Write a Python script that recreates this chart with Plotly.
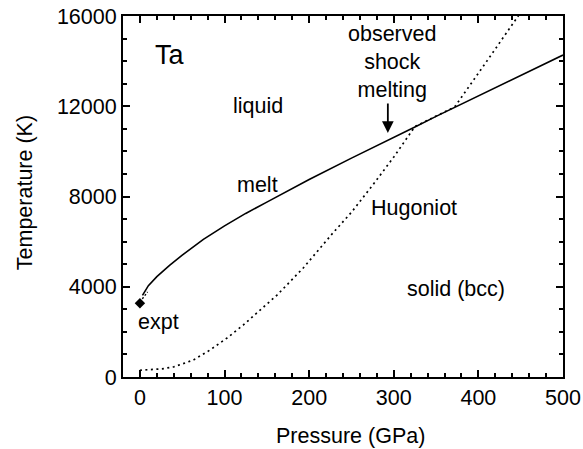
import plotly.graph_objects as go

# Melting curve of Ta (pressure in GPa, temperature in K)
melt_P = [3, 10, 20, 35, 50, 75, 100, 125, 150, 200, 250, 300, 325, 350, 400, 450, 500]
melt_T = [3620, 4050, 4450, 4950, 5400, 6100, 6700, 7250, 7750, 8750, 9700, 10600, 11080, 11550, 12450, 13350, 14270]

# Short extrapolation from the experimental point to the melt curve
link_P = [0, 9]
link_T = [3320, 3770]

# Shock Hugoniot
hug_P = [0, 15, 26, 40, 63, 83, 103, 122, 142, 162, 177, 193, 228, 250, 275, 300, 325, 350, 372, 410, 447, 460]
hug_T = [300, 320, 360, 450, 750, 1200, 1730, 2300, 2970, 3630, 4210, 4830, 6380, 7300, 8500, 9750, 11100, 11550, 11970, 14000, 16000, 16700]

# Experimental melting point at ambient pressure
expt_P = [0]
expt_T = [3270]

# Tick labels
x_ticks = [0, 100, 200, 300, 400, 500]
x_ticklabels = ["0", "100", "200", "300", "400", "500"]
y_ticks = [0, 4000, 8000, 12000, 16000]
y_ticklabels = ["0", "4000", "8000", "12000", "16000"]

FONT = "Liberation Sans, Arial, Helvetica, sans-serif"
FS = 21.5

fig = go.Figure()
fig.add_trace(go.Scatter(x=hug_P, y=hug_T, mode="lines",
                         line=dict(color="black", width=1.7, dash="2px,3.5px"),
                         showlegend=False, hoverinfo="skip"))
fig.add_trace(go.Scatter(x=link_P, y=link_T, mode="lines",
                         line=dict(color="black", width=1.4, dash="2px,2px"),
                         showlegend=False, hoverinfo="skip"))
fig.add_trace(go.Scatter(x=melt_P, y=melt_T, mode="lines",
                         line=dict(color="black", width=1.6),
                         showlegend=False, hoverinfo="skip"))
fig.add_trace(go.Scatter(x=expt_P, y=expt_T, mode="markers",
                         marker=dict(symbol="diamond", size=8, color="black"),
                         showlegend=False, hoverinfo="skip"))

labels = [
    ("Ta", 35, 14270, 27),
    ("liquid", 139.5, 12010, FS),
    ("melt", 139.5, 8510, FS),
    ("Hugoniot", 324, 7490, FS),
    ("solid (bcc)", 373.5, 3900, FS),
    ("expt", 22.5, 2440, FS),
    ("observed<br>shock<br>melting", 298, 13960, FS),
]
for text, x, y, s in labels:
    fig.add_annotation(x=x, y=y, xref="x", yref="y", text=text, showarrow=False,
                       font=dict(size=s, color="black", family=FONT),
                       xanchor="center", yanchor="middle")

# arrow pointing at observed shock melting
fig.add_annotation(x=293, y=10815, ax=293, ay=12190, xref="x", yref="y",
                   axref="x", ayref="y", text="", showarrow=True,
                   arrowhead=2, arrowsize=1.3, arrowwidth=1.8, arrowcolor="black")

# axis titles
fig.add_annotation(x=0.518, y=-0.163, xref="paper", yref="paper",
                   text="Pressure (GPa)", showarrow=False,
                   font=dict(size=FS, color="black", family=FONT),
                   xanchor="center", yanchor="middle")
fig.add_annotation(x=-0.222, y=0.51, xref="paper", yref="paper",
                   text="Temperature (K)", showarrow=False, textangle=-90,
                   font=dict(size=FS, color="black", family=FONT),
                   xanchor="center", yanchor="middle")

axis_common = dict(showline=True, linecolor="black", linewidth=2, mirror="ticks",
                   ticks="inside", ticklen=7, tickwidth=1.5, tickcolor="black",
                   showgrid=False, zeroline=False, automargin=False,
                   tickfont=dict(size=FS, color="black", family=FONT))
fig.update_xaxes(range=[-20, 500], tickvals=x_ticks, ticktext=x_ticklabels,
                 minor=dict(ticks="inside", dtick=20, tick0=0, ticklen=4,
                            tickwidth=1.5, tickcolor="black", showgrid=False),
                 **axis_common)
fig.update_yaxes(range=[0, 16000], tickvals=y_ticks, ticktext=y_ticklabels,
                 minor=dict(ticks="inside", dtick=1000, tick0=0, ticklen=4,
                            tickwidth=1.5, tickcolor="black", showgrid=False),
                 **axis_common)

fig.update_layout(width=583, height=449,
                  margin=dict(l=123, r=20, t=16, b=72),
                  paper_bgcolor="white", plot_bgcolor="white",
                  font=dict(family=FONT, color="black"))

fig.write_html("out.html")
